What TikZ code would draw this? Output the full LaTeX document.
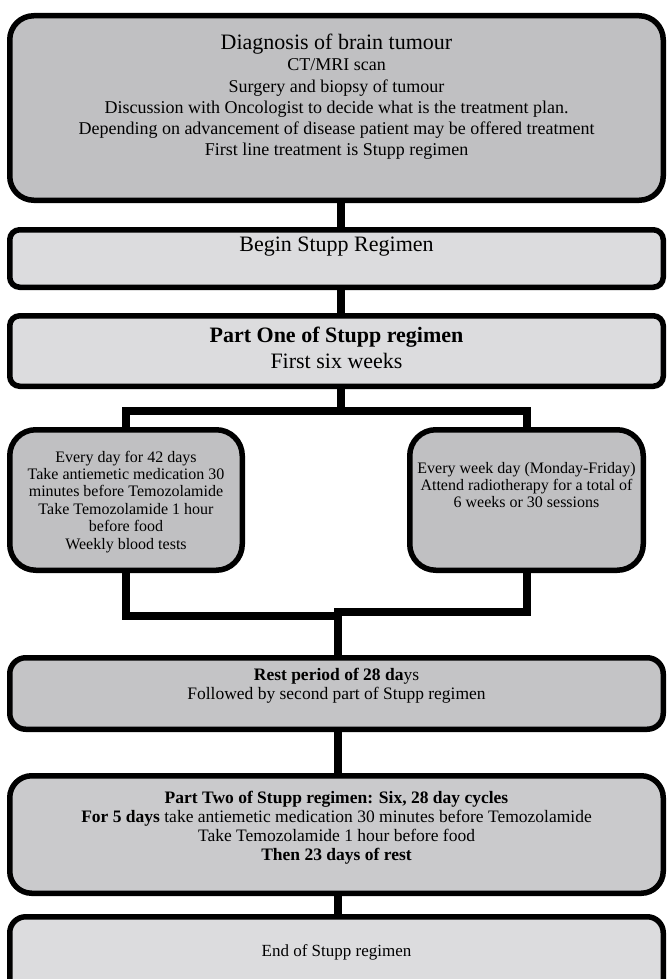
\documentclass[tikz,border=0pt]{standalone}
\usepackage{fontspec}
\setmainfont{Liberation Serif}
\usetikzlibrary{backgrounds}
\definecolor{fdark}{RGB}{192,192,194}
\definecolor{flight}{RGB}{220,220,222}
\definecolor{frest}{RGB}{196,196,198}
\definecolor{fpart}{RGB}{202,202,204}
\newcommand{\ml}[1]{\begin{tabular}[t]{@{}c@{}}#1\end{tabular}}
\tikzset{
  box/.style={draw=black, line width=5.5pt, rounded corners=#1, inner sep=0pt, outer sep=0pt, rectangle},
  conn/.style={draw=black, line width=8pt, line cap=rect, line join=miter},
  txt/.style={anchor=base, inner sep=0pt, outer sep=0pt},
}
\begin{document}
\begin{tikzpicture}[x=1pt,y=-1pt]
\useasboundingbox (0,0) rectangle (669,979);
% boxes
\node[box=24pt, fill=fdark, minimum width=653.5pt, minimum height=184.5pt] (b1) at (336.5,108) {};
\node[box=10pt, fill=flight, minimum width=653.5pt, minimum height=57.5pt] (b2) at (336.5,258.5) {};
\node[box=10pt, fill=flight, minimum width=653.5pt, minimum height=70.5pt] (b3) at (336.5,351) {};
\node[box=26pt, fill=fdark, minimum width=232.5pt, minimum height=140.5pt] (lb) at (126,500) {};
\node[box=26pt, fill=fdark, minimum width=233.5pt, minimum height=140.5pt] (rb) at (526.5,500) {};
\node[box=16pt, fill=frest, minimum width=653.5pt, minimum height=71.5pt] (rest) at (336.5,693.5) {};
\node[box=22pt, fill=fpart, minimum width=653.5pt, minimum height=117.5pt] (p2) at (336.5,834.5) {};
\node[box=16pt, fill=flight, minimum width=653.5pt, minimum height=85.5pt] (fin) at (336.5,959.5) {};
% texts
\node[txt, font=\fontsize{18}{21.3}\selectfont] (t1) at (336.5,49.5) {\ml{{\fontsize{22}{26}\selectfont Diagnosis of brain tumour}\\
CT/MRI scan\\
Surgery and biopsy of tumour\\
Discussion with Oncologist to decide what is the treatment plan.\\
Depending on advancement of disease patient may be offered treatment\\
First line treatment is Stupp regimen}};
\node[txt, font=\fontsize{22}{26}\selectfont] (t2) at (336.5,251) {Begin Stupp Regimen};
\node[txt, font=\fontsize{22}{26}\selectfont] (t3) at (336.5,342) {\ml{\textbf{Part One of Stupp regimen}\\ First six weeks}};
\node[txt, font=\fontsize{16}{17.4}\selectfont] (tl) at (126,462) {\ml{Every day for 42 days\\
Take antiemetic medication 30\\
minutes before Temozolamide\\
Take Temozolamide 1 hour\\
before food\\
Weekly blood tests}};
\node[txt, font=\fontsize{16}{17.4}\selectfont] (tr) at (526.5,473) {\ml{Every week day (Monday-Friday)\\
Attend radiotherapy for a total of\\
6 weeks or 30 sessions}};
\node[txt, font=\fontsize{17.5}{19}\selectfont] (trest) at (336.5,680) {\ml{\textbf{Rest period of 28 da}ys\\
Followed by second part of Stupp regimen}};
\node[txt, font=\fontsize{17.5}{19.3}\selectfont] (tp2) at (336.5,803) {\ml{\textbf{Part Two of Stupp regimen: Six, 28 day cycles}\\
\textbf{For 5 days} take antiemetic medication 30 minutes before Temozolamide\\
Take Temozolamide 1 hour before food\\
\textbf{Then 23 days of rest}}};
\node[txt, font=\fontsize{17}{20}\selectfont] (tfin) at (336.5,956) {End of Stupp regimen};
% connectors
\coordinate (jt) at (341,411);
\coordinate (jl) at (338,616);
\coordinate (jr) at (338,612);
\begin{scope}[on background layer]
\draw[conn] ([xshift=4.5pt]b1.south) -- ([xshift=4.5pt]b2.north);
\draw[conn] ([xshift=4.5pt]b2.south) -- ([xshift=4.5pt]b3.north);
\draw[conn] ([xshift=4.5pt]b3.south) -- (jt);
\draw[conn] (lb.north) |- (jt) -| (rb.north);
\draw[conn] (lb.south) |- (jl);
\draw[conn] (rb.south) |- (jr);
\draw[conn] (jr) -- ([xshift=1.5pt]rest.north);
\draw[conn] ([xshift=1.5pt]rest.south) -- ([xshift=1.5pt]p2.north);
\draw[conn] ([xshift=1.5pt]p2.south) -- ([xshift=1.5pt]fin.north);
\end{scope}
\end{tikzpicture}
\end{document}
